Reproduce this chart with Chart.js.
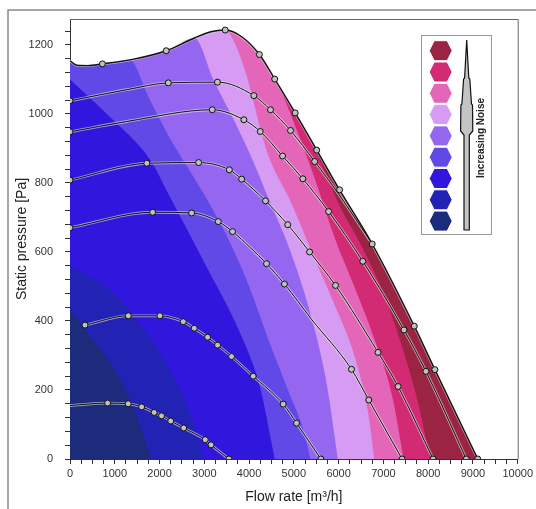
<!DOCTYPE html>
<html>
<head>
<meta charset="utf-8">
<script src="https://cdn.jsdelivr.net/npm/chart.js@4.4.1/dist/chart.umd.min.js"></script>
<style>
  html, body { margin: 0; padding: 0; background: #fff; }
  #wrap { width: 536px; height: 509px; position: relative; }
</style>
</head>
<body>
<div id="wrap"><canvas id="chart"></canvas></div>
<script>
// fan curves: [flow m3/h, static pressure Pa, measured point 1/0]
const curveMax = [[0,1154,0],[150,1141,0],[400,1140,0],[724,1145,1],[1400,1158,0],[2149,1183,1],[2780,1220,0],[3150,1238,0],[3468,1243,1],[3850,1222,0],[4230,1172,1],[4573,1101,1],[5030,1003,1],[5511,895,1],[6021,780,1],[6750,623,1],[7690,385,1],[8150,259,1],[9108,0,1]];
const curve1040 = [[0,1038,1],[1265,1070,0],[2195,1090,1],[3293,1092,1],[4107,1053,1],[4479,1012,1],[4926,952,1],[5465,862,1],[6000,768,0],[6700,633,0]];
const curve948 = [[0,948,1],[1265,978,0],[3178,1012,1],[3884,983,1],[4250,949,1],[4748,878,1],[5200,812,1],[5777,717,1],[6540,573,1],[7460,374,1],[7950,254,1],[8850,0,1]];
const curve810 = [[0,808,1],[1715,857,1],[2873,859,1],[3559,838,1],[3834,811,1],[4367,748,1],[4863,679,1],[5351,600,1],[5930,503,1],[6880,309,1],[7328,210,1],[8110,0,1]];
const curve672 = [[0,670,1],[1846,715,1],[2716,713,1],[3311,688,1],[3631,659,1],[4024,613,0],[4390,566,1],[4790,507,1],[5400,404,0],[6287,260,1],[6674,171,1],[7418,0,1]];
const curve390 = [[335,388,1],[1302,415,1],[2009,415,1],[2530,398,1],[2775,379,1],[3073,353,1],[3296,330,1],[3609,297,1],[4092,240,1],[4762,159,1],[5060,104,1],[5603,0,1]];
const curve157 = [[0,155,0],[840,162,1],[1300,160,1],[1600,151,1],[1880,135,1],[2045,125,1],[2250,110,1],[2540,90,1],[3020,56,1],[3150,41,1],[3550,0,1]];
const fanCurves = [curveMax, curve1040, curve948, curve810, curve672, curve390, curve157];

// noise band edges [flow, pressure], from top curve / y axis down to the x axis
const edgeNavy = [[0,430],[520,345],[1040,250],[1490,125],[1814,0]];
const edgeBlue = [[0,560],[900,490],[1700,370],[2350,230],[2750,110],[2988,0]];
const edgeViolet = [[0,1100],[900,990],[1790,867],[2230,760],[3050,557],[3800,365],[4240,210],[4573,0]];
const edgeSlate = [[1330,1157],[1750,1050],[2250,925],[2700,830],[3200,720],[3600,620],[4000,500],[4450,340],[4900,190],[5200,90],[5373,0]];
const edgePurple = [[2780,1220],[3200,1100],[3650,985],[4100,860],[4450,750],[4900,610],[5350,430],[5730,220],[5983,0]];
const edgeLilac = [[3450,1243],[3830,1157],[4430,880],[4950,740],[5400,600],[5900,450],[6350,300],[6650,140],[6799,0]];
const edgePink = [[4650,1084],[5134,930],[5500,800],[5915,640],[6350,500],[6820,340],[7200,180],[7454,0]];
const edgeCrimson = [[5200,965],[5600,860],[6000,740],[6500,620],[7000,480],[7440,316],[7800,150],[8041,0]];

// quietest -> loudest
const noiseColors = ['#1d2b7d','#2222b5','#3116de','#6049e6','#9566ef','#d69bf3','#e466b9','#d22b74','#9b2442'];
const bandEdges = [edgeNavy, edgeBlue, edgeViolet, edgeSlate, edgePurple, edgeLilac, edgePink, edgeCrimson, null];

function bandArea(edge) {
  if (!edge) return curveMax.map(p => ({x: p[0], y: p[1]}));
  const startX = edge[0][0];
  const upper = curveMax.filter(p => p[0] < startX - 1).map(p => ({x: p[0], y: p[1]}));
  return upper.concat(edge.map(p => ({x: p[0], y: p[1]})));
}

const datasets = [];
bandEdges.forEach((edge, i) => {
  datasets.push({
    data: bandArea(edge),
    fill: 'origin',
    backgroundColor: noiseColors[i],
    borderColor: 'rgba(0,0,0,0)',
    borderWidth: 0,
    pointRadius: 0,
    cubicInterpolationMode: 'monotone',
    order: 100 + i
  });
});
fanCurves.forEach((c, i) => {
  const pts = c.map(p => ({x: p[0], y: p[1]}));
  datasets.push({
    data: pts,
    fill: false,
    borderColor: 'rgba(235,235,235,0.6)',
    borderWidth: 2.8,
    pointRadius: 0,
    cubicInterpolationMode: 'monotone',
    order: 20
  });
  datasets.push({
    data: pts,
    fill: false,
    borderColor: '#111',
    borderWidth: i === 0 ? 1.4 : 1,
    pointRadius: c.map(p => p[2] ? 3 : 0),
    pointBackgroundColor: '#c0c0c0',
    pointBorderColor: '#111',
    pointBorderWidth: 1,
    cubicInterpolationMode: 'monotone',
    order: 10
  });
});

const frameAndLegend = {
  id: 'frameAndLegend',
  afterDraw(chart) {
    const ctx = chart.ctx;
    const {left, right, top, bottom} = chart.chartArea;
    ctx.save();
    ctx.strokeStyle = '#8a8a8a';
    ctx.lineWidth = 1.5;
    ctx.beginPath();
    ctx.moveTo(8, 509); ctx.lineTo(8, 10); ctx.lineTo(536, 10);
    ctx.stroke();

    ctx.strokeStyle = '#666';
    ctx.lineWidth = 1;
    ctx.beginPath();
    ctx.moveTo(left, top + 0.5); ctx.lineTo(right + 0.5, top + 0.5); ctx.lineTo(right + 0.5, bottom);
    ctx.stroke();

    // legend box
    ctx.fillStyle = '#fff';
    ctx.fillRect(421, 35, 71, 200);
    ctx.strokeStyle = '#9a9a9a';
    ctx.strokeRect(421.5, 35.5, 70, 199);

    const legendColors = noiseColors.slice().reverse();
    legendColors.forEach((c, i) => {
      const cx = 440.7, cy = 50.7 + i * 21.3;
      ctx.beginPath();
      ctx.moveTo(cx - 11.5, cy);
      ctx.lineTo(cx - 6.5, cy - 10);
      ctx.lineTo(cx + 6.5, cy - 10);
      ctx.lineTo(cx + 11.5, cy);
      ctx.lineTo(cx + 6.5, cy + 10);
      ctx.lineTo(cx - 6.5, cy + 10);
      ctx.closePath();
      ctx.fillStyle = c;
      ctx.fill();
      ctx.strokeStyle = '#fff';
      ctx.lineWidth = 1;
      ctx.stroke();
    });

    // arrow
    const arrow = [[466.7,40],[468.8,78],[469.8,79],[471.5,104],[472.5,105],[472.8,131],[469.3,135],[469.3,230],
                   [464,230],[464,135],[460.6,131],[460.9,105],[461.9,104],[463.6,79],[464.6,78]];
    ctx.beginPath();
    arrow.forEach((p, i) => i ? ctx.lineTo(p[0], p[1]) : ctx.moveTo(p[0], p[1]));
    ctx.closePath();
    ctx.fillStyle = '#c4c4c4';
    ctx.fill();
    ctx.strokeStyle = '#111';
    ctx.lineWidth = 1.2;
    ctx.stroke();

    ctx.translate(481.5, 138);
    ctx.rotate(-Math.PI / 2);
    ctx.font = 'bold 10px Arial, "Liberation Sans", sans-serif';
    ctx.fillStyle = '#222';
    ctx.textAlign = 'center';
    ctx.textBaseline = 'middle';
    ctx.fillText('Increasing Noise', 0, 0);
    ctx.restore();
  }
};

const tickFont = {family: 'Arial, "Liberation Sans", sans-serif', size: 11};
const titleFont = {family: 'Arial, "Liberation Sans", sans-serif', size: 14};

new Chart(document.getElementById('chart'), {
  type: 'line',
  data: {datasets},
  options: {
    animation: false,
    responsive: true,
    maintainAspectRatio: false,
    devicePixelRatio: 1,
    events: [],
    layout: {padding: {left: 0, top: 19, right: 18, bottom: 0}},
    plugins: {legend: {display: false}, tooltip: {enabled: false}},
    scales: {
      x: {
        type: 'linear',
        min: 0, max: 10000,
        afterFit: s => { s.height = 50; },
        ticks: {
          stepSize: 250, autoSkip: false, maxRotation: 0, includeBounds: false,
          callback: v => (Math.round(v) % 1000 === 0 ? String(Math.round(v)) : ''),
          font: tickFont, color: '#333', padding: 3
        },
        grid: {drawOnChartArea: false, drawTicks: true, tickLength: 5, color: '#333'},
        border: {color: '#333', width: 1},
        title: {display: true, text: 'Flow rate [m³/h]', font: titleFont, color: '#222', padding: {top: 0, bottom: 3.6}}
      },
      y: {
        type: 'linear',
        min: 0, max: 1275,
        afterFit: s => { s.width = 70; },
        ticks: {
          stepSize: 40, autoSkip: false, includeBounds: false,
          callback: v => (Math.round(v) % 200 === 0 ? String(Math.round(v)) : ''),
          font: tickFont, color: '#333', padding: 12
        },
        grid: {drawOnChartArea: false, drawTicks: true, tickLength: 5, color: '#333'},
        border: {color: '#333', width: 1},
        title: {display: true, text: 'Static pressure [Pa]', font: titleFont, color: '#222', padding: {top: 13.6, bottom: 0}}
      }
    }
  },
  plugins: [frameAndLegend]
});
</script>
</body>
</html>
